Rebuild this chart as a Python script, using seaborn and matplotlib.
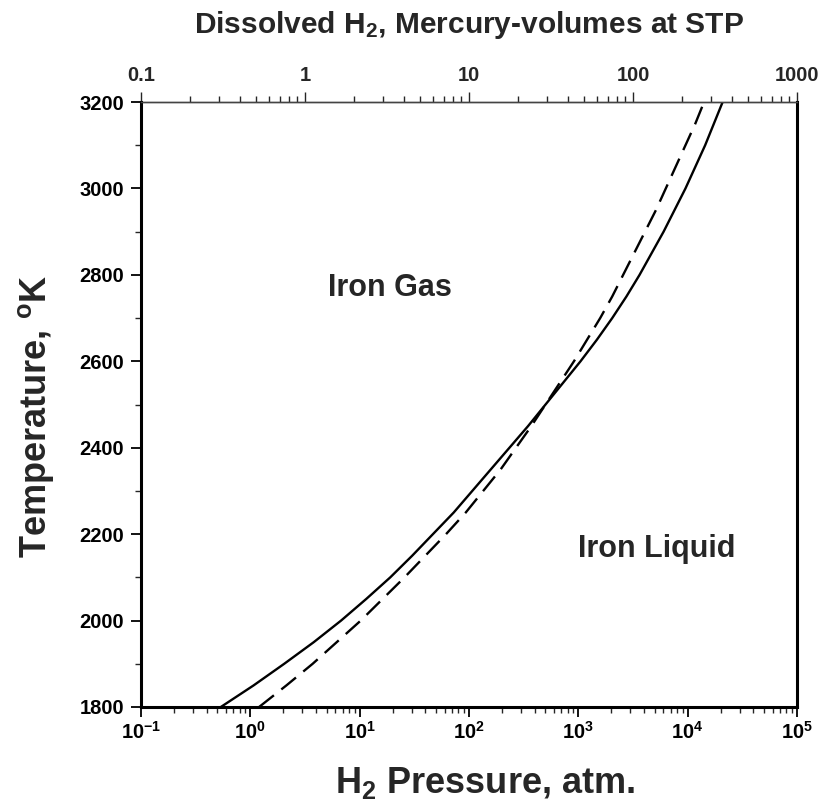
import numpy as np
import pandas as pd
import matplotlib
matplotlib.use('Agg')
import matplotlib.pyplot as plt
import seaborn as sns
from matplotlib.ticker import FixedLocator, NullFormatter, LogLocator

# temperature grid (K) and log10 of H2 pressure (atm)
temperature = [1800, 1850, 1900, 1950, 2000, 2050, 2100, 2150, 2200, 2250,
               2300, 2350, 2400, 2450, 2500, 2550, 2600, 2650, 2700, 2750,
               2800, 2850, 2900, 2950, 3000, 3050, 3100, 3150, 3200]
log_p_solid = [-0.27, 0.03, 0.31, 0.58, 0.83, 1.06, 1.28, 1.48, 1.67, 1.86,
               2.03, 2.20, 2.37, 2.54, 2.70, 2.86, 3.02, 3.17, 3.31, 3.44,
               3.56, 3.67, 3.78, 3.88, 3.98, 4.07, 4.16, 4.24, 4.32]
log_p_dashed = [0.08, 0.33, 0.57, 0.79, 1.01, 1.21, 1.41, 1.60, 1.79, 1.97,
                2.13, 2.29, 2.43, 2.57, 2.70, 2.83, 2.96, 3.08, 3.20, 3.31,
                3.41, 3.51, 3.61, 3.71, 3.80, 3.89, 3.98, 4.07, 4.15]

bottom_ticks = [0.1, 1, 10, 100, 1000, 10000, 100000]
bottom_labels = [r'$\mathbf{10^{-1}}$', r'$\mathbf{10^{0}}$', r'$\mathbf{10^{1}}$',
                 r'$\mathbf{10^{2}}$', r'$\mathbf{10^{3}}$', r'$\mathbf{10^{4}}$',
                 r'$\mathbf{10^{5}}$']
top_ticks = [0.1, 1, 10, 100, 1000]
top_labels = ['0.1', '1', '10', '100', '1000']
y_ticks = [1800, 2000, 2200, 2400, 2600, 2800, 3000, 3200]

sns.set_style('ticks')
plt.rcParams['font.family'] = ['Liberation Sans', 'DejaVu Sans']
plt.rcParams['font.weight'] = 'bold'
plt.rcParams['mathtext.fontset'] = 'custom'
plt.rcParams['mathtext.rm'] = 'Liberation Sans:bold'
plt.rcParams['mathtext.bf'] = 'Liberation Sans:bold'
plt.rcParams['mathtext.it'] = 'Liberation Sans:bold'

df = pd.concat([
    pd.DataFrame({'T': temperature, 'P': 10 ** np.array(log_p_solid), 'curve': 'solid'}),
    pd.DataFrame({'T': temperature, 'P': 10 ** np.array(log_p_dashed), 'curve': 'dashed'}),
], ignore_index=True)

fig = plt.figure(figsize=(8.24, 8.10), dpi=100)
ax = fig.add_axes([141 / 824, 1 - 707 / 810, 656 / 824, 605 / 810])

sns.lineplot(data=df, x='P', y='T', style='curve', color='black',
             dashes={'solid': '', 'dashed': (8, 4)}, sort=False,
             estimator=None, linewidth=1.7, legend=False, ax=ax)

ax.set_xscale('log')
ax.set_xlim(0.1, 1e5)
ax.set_ylim(1800, 3200)

ax.xaxis.set_major_locator(FixedLocator(bottom_ticks))
ax.set_xticklabels(bottom_labels)
ax.xaxis.set_minor_locator(LogLocator(base=10, subs=np.arange(2, 10)))
ax.xaxis.set_minor_formatter(NullFormatter())
ax.set_yticks(y_ticks)
ax.set_yticks(np.arange(1800, 3201, 100), minor=True)

ax.tick_params(axis='both', which='major', direction='out', length=7, width=1.3,
               labelsize=14.5, colors='black', pad=5)
ax.tick_params(axis='x', which='major', pad=3)
ax.tick_params(axis='both', which='minor', direction='out', length=4, width=1.0)
ax.tick_params(axis='x', which='both', top=False)
ax.tick_params(axis='y', which='both', right=False)

for side in ['left', 'bottom', 'right']:
    ax.spines[side].set_linewidth(2.2)
    ax.spines[side].set_color('black')
ax.spines['top'].set_linewidth(1.0)
ax.spines['top'].set_color('#444444')


def fwd(x):
    x = np.clip(x, 1e-300, None)
    return 10 ** (-1 + (np.log10(x) + 1) * 2 / 3)


def inv(t):
    t = np.clip(t, 1e-300, None)
    return 10 ** (-1 + (np.log10(t) + 1) * 1.5)


secax = ax.secondary_xaxis('top', functions=(fwd, inv))
secax.xaxis.set_major_locator(FixedLocator(top_ticks))
secax.set_xticklabels(top_labels)
secax.xaxis.set_minor_locator(LogLocator(base=10, subs=np.arange(2, 10)))
secax.xaxis.set_minor_formatter(NullFormatter())
secax.tick_params(which='major', direction='out', length=7, width=1.0,
                  labelsize=14.5, pad=5)
secax.tick_params(which='minor', direction='out', length=4, width=1.0)
secax.spines['top'].set_linewidth(1.0)
secax.spines['top'].set_color('#444444')
secax.set_xlabel(r'Dissolved H$_2$, Mercury-volumes at STP', fontsize=21.5,
                 fontweight='bold', labelpad=24)

ax.set_xlabel(r'H$_2$ Pressure, atm.', fontsize=26, fontweight='bold', labelpad=12)
ax.set_ylabel(r'Temperature, $^{\rm o}$K', fontsize=26, fontweight='bold', labelpad=12)
ax.xaxis.set_label_coords(0.524, -0.096)
ax.yaxis.set_label_coords(-0.13, 0.48)

ax.text(19, 2770, 'Iron Gas', fontsize=22, fontweight='bold', ha='center', va='center')
ax.text(5250, 2166, 'Iron Liquid', fontsize=22, fontweight='bold', ha='center', va='center')

fig.savefig('out.png', dpi=100, facecolor='white')
